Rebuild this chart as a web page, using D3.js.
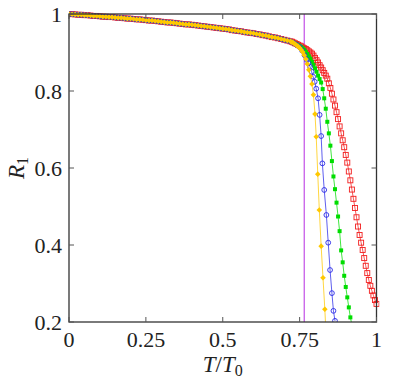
<!DOCTYPE html>
<html>
<head>
<meta charset="UTF-8">
<script src="https://d3js.org/d3.v7.min.js"></script>
<style>
  body { margin: 0; background: #fff; }
</style>
</head>
<body>
<svg id="chart"></svg>
<script>
// low-temperature part: the four curves lie on top of each other here
const basePoints = [
  [0.00,1.000],[0.01,0.9995],[0.02,0.999],[0.03,0.998],[0.04,0.998],[0.05,0.997],
  [0.06,0.997],[0.07,0.996],[0.08,0.995],[0.09,0.995],[0.10,0.994],[0.11,0.993],
  [0.12,0.993],[0.13,0.992],[0.14,0.992],[0.15,0.991],[0.16,0.990],[0.17,0.990],
  [0.18,0.989],[0.19,0.988],[0.20,0.988],[0.21,0.987],[0.22,0.986],[0.23,0.986],
  [0.24,0.985],[0.25,0.984],[0.26,0.983],[0.27,0.983],[0.28,0.982],[0.29,0.981],
  [0.30,0.980],[0.31,0.979],[0.32,0.978],[0.33,0.978],[0.34,0.977],[0.35,0.976],
  [0.36,0.975],[0.37,0.974],[0.38,0.973],[0.39,0.973],[0.40,0.972],[0.41,0.971],
  [0.42,0.970],[0.43,0.969],[0.44,0.968],[0.45,0.967],[0.46,0.966],[0.47,0.965],
  [0.48,0.964],[0.49,0.963],[0.50,0.962],[0.51,0.961],[0.52,0.960],[0.53,0.958],
  [0.54,0.957],[0.55,0.956],[0.56,0.955],[0.57,0.953],[0.58,0.952],[0.59,0.951],
  [0.60,0.950],[0.61,0.948],[0.62,0.947],[0.63,0.945],[0.64,0.944],[0.65,0.942],
  [0.66,0.940],[0.67,0.939],[0.68,0.937],[0.69,0.935],[0.70,0.933],[0.71,0.931],
  [0.72,0.929]
];

const redTail = [
  [0.725,0.928],[0.730,0.926],[0.735,0.924],[0.740,0.922],[0.745,0.920],[0.750,0.918],
  [0.755,0.916],[0.760,0.913],[0.765,0.911],[0.770,0.909],[0.775,0.906],[0.780,0.903],
  [0.785,0.900],[0.790,0.897],[0.795,0.892],[0.800,0.886],[0.805,0.880],[0.810,0.874],
  [0.815,0.867],[0.820,0.861],[0.825,0.854],[0.830,0.847],[0.835,0.840],[0.840,0.832],
  [0.845,0.820],[0.850,0.808],[0.855,0.793],[0.860,0.778],[0.865,0.762],[0.870,0.745],
  [0.875,0.727],[0.880,0.708],[0.885,0.690],[0.890,0.672],[0.895,0.654],[0.900,0.634],
  [0.905,0.614],[0.910,0.591],[0.915,0.568],[0.920,0.544],[0.925,0.520],[0.930,0.496],
  [0.935,0.472],[0.940,0.448],[0.945,0.426],[0.950,0.406],[0.955,0.387],[0.960,0.366],
  [0.965,0.346],[0.970,0.327],[0.975,0.309],[0.980,0.294],[0.985,0.281],[0.990,0.269],
  [0.995,0.257],[1.000,0.247]
];

const greenTail = [
  [0.725,0.927],[0.730,0.925],[0.735,0.923],[0.740,0.921],[0.745,0.919],[0.750,0.917],
  [0.755,0.914],[0.760,0.911],[0.765,0.907],[0.770,0.902],[0.775,0.896],[0.780,0.890],
  [0.785,0.884],[0.790,0.876],[0.795,0.868],[0.800,0.859],[0.805,0.850],[0.810,0.840],
  [0.815,0.831],[0.820,0.822],[0.825,0.805],[0.830,0.781],[0.835,0.754],[0.840,0.720],
  [0.845,0.690],[0.850,0.658],[0.855,0.618],[0.860,0.578],[0.865,0.545],[0.870,0.510],
  [0.875,0.474],[0.880,0.436],[0.885,0.386],[0.890,0.355],[0.895,0.320],[0.900,0.291],
  [0.905,0.264],[0.910,0.238],[0.915,0.212],[0.922,0.185]
];

const blueTail = [
  [0.730,0.925],[0.740,0.920],[0.750,0.914],[0.758,0.905],[0.766,0.893],[0.773,0.881],
  [0.779,0.872],[0.784,0.863],[0.789,0.850],[0.794,0.837],[0.799,0.824],[0.804,0.806],
  [0.810,0.781],[0.815,0.738],[0.820,0.683],[0.824,0.612],[0.830,0.543],[0.837,0.478],
  [0.843,0.406],[0.849,0.335],[0.855,0.275],[0.860,0.229],[0.865,0.203]
];

const yellowTail = [
  [0.725,0.927],[0.730,0.925],[0.735,0.922],[0.740,0.919],[0.745,0.916],[0.750,0.912],
  [0.755,0.907],[0.760,0.901],[0.765,0.893],[0.770,0.883],[0.775,0.870],[0.780,0.855],
  [0.785,0.838],[0.790,0.818],[0.795,0.790],[0.800,0.740],[0.804,0.681],[0.809,0.584],
  [0.814,0.491],[0.820,0.397],[0.826,0.315],[0.832,0.233],[0.837,0.150]
];

const criticalT = 0.765;
const xTicks = [0, 0.25, 0.5, 0.75, 1];
const xTickLabels = ["0", "0.25", "0.5", "0.75", "1"];
const yTicks = [0.2, 0.4, 0.6, 0.8, 1];
const yTickLabels = ["0.2", "0.4", "0.6", "0.8", "1"];

const width = 396, height = 382;
const margin = { top: 14, right: 19.5, bottom: 60, left: 69 };
const serif = "Liberation Serif, Times New Roman, Tinos, DejaVu Serif, Noto Serif, FreeSerif, serif";

const svg = d3.select("#chart").attr("width", width).attr("height", height);

const x = d3.scaleLinear().domain([0, 1]).range([margin.left, width - margin.right]);
const y = d3.scaleLinear().domain([0.2, 1]).range([height - margin.bottom, margin.top]);

svg.append("clipPath").attr("id", "plotClip")
  .append("rect")
  .attr("x", x(0)).attr("y", y(1) - 3)
  .attr("width", x(1) - x(0) + 3).attr("height", y(0.2) - y(1) + 3);

const series = [
  { name: "red", color: "#f21d1d", pts: basePoints.concat(redTail), marker: "openSquare" },
  { name: "green", color: "#00dd00", pts: basePoints.concat(greenTail), marker: "square" },
  { name: "blue", color: "#2a2ae8", pts: basePoints.concat(blueTail), marker: "openCircle" },
  { name: "yellow", color: "#ffc800", pts: basePoints.concat(yellowTail), marker: "diamond" }
];

const plot = svg.append("g").attr("clip-path", "url(#plotClip)");

// critical temperature
plot.append("line")
  .attr("x1", x(criticalT)).attr("x2", x(criticalT))
  .attr("y1", y(1)).attr("y2", y(0.2))
  .attr("stroke", "#c24fe6").attr("stroke-width", 1.2);

const line = d3.line().x(d => x(d[0])).y(d => y(d[1]));

series.forEach(s => {
  const g = plot.append("g");
  g.append("path")
    .datum(s.pts)
    .attr("fill", "none")
    .attr("stroke", s.color)
    .attr("stroke-opacity", 0.75)
    .attr("stroke-width", 1)
    .attr("d", line);

  const m = g.selectAll(".m").data(s.pts).enter();
  if (s.marker === "openSquare") {
    m.append("rect")
      .attr("x", d => x(d[0]) - 2.5).attr("y", d => y(d[1]) - 2.5)
      .attr("width", 5).attr("height", 5)
      .attr("fill", "none").attr("stroke", s.color).attr("stroke-width", 0.9);
  } else if (s.marker === "square") {
    m.append("rect")
      .attr("x", d => x(d[0]) - 2).attr("y", d => y(d[1]) - 2)
      .attr("width", 4).attr("height", 4)
      .attr("fill", s.color);
  } else if (s.marker === "openCircle") {
    m.append("circle")
      .attr("cx", d => x(d[0])).attr("cy", d => y(d[1])).attr("r", 2.4)
      .attr("fill", "none").attr("stroke", s.color).attr("stroke-width", 0.9);
  } else {
    m.append("path")
      .attr("transform", d => `translate(${x(d[0])},${y(d[1])})`)
      .attr("d", "M0,-2.8L2.8,0L0,2.8L-2.8,0Z")
      .attr("fill", s.color);
  }
});

// frame and inward ticks on all sides
const frame = svg.append("g");
frame.append("rect")
  .attr("x", x(0)).attr("y", y(1))
  .attr("width", x(1) - x(0)).attr("height", y(0.2) - y(1))
  .attr("fill", "none").attr("stroke", "#333").attr("stroke-width", 1.3);

const tickLen = 5;
xTicks.forEach(t => {
  frame.append("line").attr("x1", x(t)).attr("x2", x(t))
    .attr("y1", y(0.2)).attr("y2", y(0.2) - tickLen).attr("stroke", "#555");
  frame.append("line").attr("x1", x(t)).attr("x2", x(t))
    .attr("y1", y(1)).attr("y2", y(1) + tickLen).attr("stroke", "#555");
});
yTicks.forEach(t => {
  frame.append("line").attr("x1", x(0)).attr("x2", x(0) + tickLen)
    .attr("y1", y(t)).attr("y2", y(t)).attr("stroke", "#555");
  frame.append("line").attr("x1", x(1)).attr("x2", x(1) - tickLen)
    .attr("y1", y(t)).attr("y2", y(t)).attr("stroke", "#555");
});

svg.selectAll(".xl").data(xTicks).enter().append("text")
  .attr("x", d => x(d)).attr("y", y(0.2) + 25)
  .attr("text-anchor", "middle").attr("font-size", 22).attr("fill", "#222")
  .style("font-family", serif)
  .text((d, i) => xTickLabels[i]);

svg.selectAll(".yl").data(yTicks).enter().append("text")
  .attr("x", x(0) - 7).attr("y", d => y(d) + 7.5)
  .attr("text-anchor", "end").attr("font-size", 22).attr("fill", "#222")
  .style("font-family", serif)
  .text((d, i) => yTickLabels[i]);

// axis titles
const xt = svg.append("text")
  .attr("x", (x(0) + x(1)) / 2).attr("y", 372)
  .attr("text-anchor", "middle").attr("font-size", 23).attr("font-style", "italic")
  .attr("fill", "#222").style("font-family", serif);
xt.append("tspan").text("T");
xt.append("tspan").attr("font-style", "normal").text("/");
xt.append("tspan").text("T");
xt.append("tspan").attr("font-style", "normal").attr("font-size", 16).attr("dy", 4).text("0");

const yt = svg.append("text")
  .attr("transform", `translate(24,${(y(0.2) + y(1)) / 2}) rotate(-90)`)
  .attr("text-anchor", "middle").attr("font-size", 23).attr("font-style", "italic")
  .attr("fill", "#222").style("font-family", serif);
yt.append("tspan").text("R");
yt.append("tspan").attr("font-style", "normal").attr("font-size", 16).attr("dy", 4).text("1");
</script>
</body>
</html>
